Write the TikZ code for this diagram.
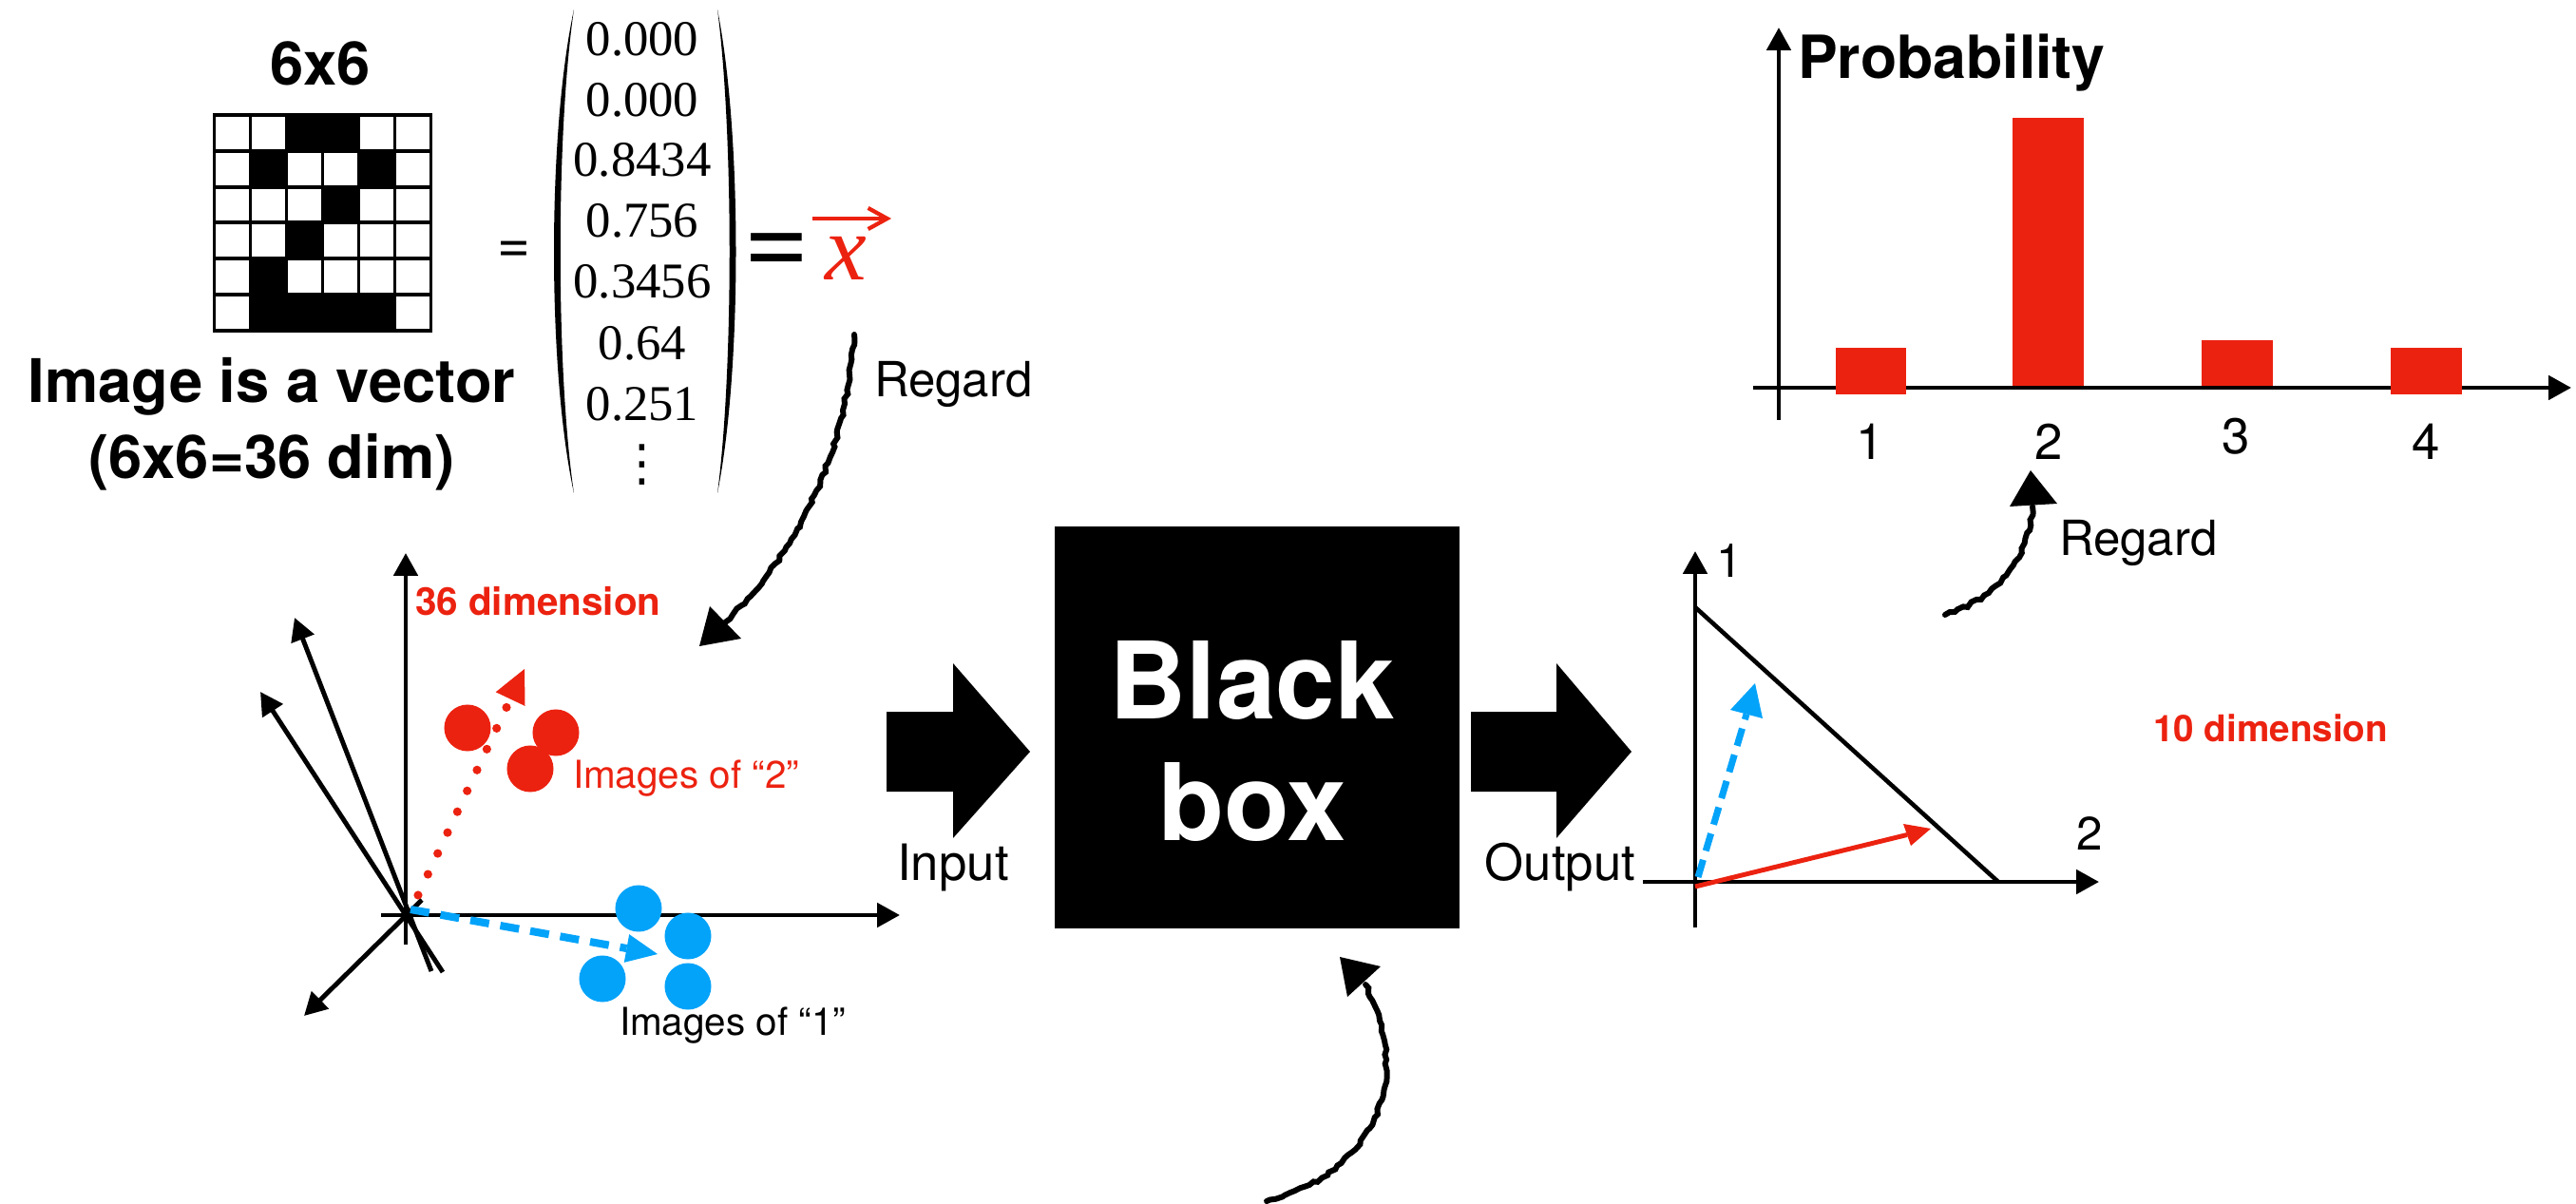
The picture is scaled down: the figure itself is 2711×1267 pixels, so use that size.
\documentclass[tikz,border=0pt]{standalone}
\usepackage{fontspec}
\setmainfont{TeX Gyre Heros}
\newfontfamily\timesfont{Liberation Serif}
\newfontfamily\dejavu{DejaVu Sans}
\usetikzlibrary{arrows.meta,decorations.pathmorphing}
\definecolor{myred}{RGB}{236,34,16}
\definecolor{myblue}{RGB}{4,163,250}
\newcommand{\fsz}[1]{\fontsize{#1}{#1}\selectfont}
\begin{document}
\begin{tikzpicture}[x=0.01cm,y=-0.01cm,
  txt/.style={inner sep=0pt, outer sep=0pt},
  axis/.style={line width=1.4pt, -{Triangle[length=6.8pt,width=7.1pt]}},
  plainline/.style={line width=1.3pt},
  sketch/.style={line width=1.7pt, line cap=round, decorate, decoration={random steps, segment length=1.5pt, amplitude=0.45pt}},
  redfill/.style={fill=myred},
  bluefill/.style={fill=myblue},
]
\pgfmathsetseed{3}
\fill[white] (0,0) rectangle (2711,1267);
\useasboundingbox (0,0) rectangle (2711,1267);

% ---------- 6x6 image ----------
\node[txt, anchor=base, font=\fsz{18pt}\bfseries] (t66) at (337,90) {6x6};
\foreach \c/\r in {2/0,3/0,1/1,4/1,3/2,2/3,1/4,1/5,2/5,3/5,4/5}
  \fill (225.5+38*\c, 121+37.8*\r) rectangle ++(38,37.8);
\foreach \i in {0,...,6} {
  \draw[line width=1.1pt, line cap=rect] (225.5+38*\i,121) -- (225.5+38*\i,347.8);
  \draw[line width=1.1pt, line cap=rect] (225.5,121+37.8*\i) -- (453.5,121+37.8*\i);
}
\node[txt, anchor=base, font=\fsz{18pt}\bfseries] (cap1) at (286,424) {Image is a vector};
\node[txt, anchor=base, font=\fsz{18pt}\bfseries] (cap2) at (286,504) {(6x6=36 dim)};

\node[txt, font=\fsz{17pt}] (eq1) at (541,265) {=};

% ---------- vector ----------
\fill (604,10) .. controls (576,140) and (576,390) .. (604,519)
      .. controls (585,390) and (585,140) .. (604,10) -- cycle;
\fill (755,10) .. controls (781,140) and (781,390) .. (755,519)
      .. controls (772,390) and (772,140) .. (755,10) -- cycle;
\foreach \v/\y [count=\k] in {0.000/41, 0.000/105, 0.8434/168, 0.756/232, 0.3456/296, 0.64/361, 0.251/425}
  \node[txt, font=\timesfont\fsz{15pt}] (m\k) at (676,\y) {\v};
\node[txt, font=\dejavu\fsz{15pt}] (m8) at (676,489) {⋮};

\node[txt, font=\fsz{34pt}] (eq2) at (817,268) {=};
\node[txt, font=\timesfont\itshape\fsz{28pt}, text=myred] (xv) at (890,272) {x};
\draw[myred, line width=1.2pt, -{Straight Barb[length=5.7pt,width=6.3pt]}] (855,230) -- (938,230);

% ---------- Regard 1 ----------
\coordinate (r1s) at (899,352);
\coordinate (r1e) at (763,655);
\draw[sketch] (r1s) .. controls (890,480) and (840,580) .. (r1e);
\fill (747,638) -- (780,672) -- (736,680) -- cycle;
\node[txt, anchor=base west, font=\fsz{14.5pt}] (reg1) at (920,418) {Regard};

% ---------- 36-dim space ----------
\draw[axis] (427,994) -- (427,582);
\draw[axis] (401,963) -- (947,963);
\draw[axis] (454,1022) -- (310,650);
\draw[axis] (466,1023) -- (274,728);
\draw[axis] (444,947) -- (320,1069);
\node[txt, anchor=base west, font=\fsz{11.5pt}\bfseries, text=myred] (d36) at (437,648) {36 dimension};

\foreach \p in {(492,766),(585,771),(558,809)}
  \fill[myred] \p circle[radius=0.245cm];
\foreach \p in {(672,956),(724,985),(634,1030),(724,1038)}
  \fill[myblue] \p circle[radius=0.245cm];

\draw[myred, line width=2.6pt, line cap=round, dash pattern=on 0pt off 6.9pt] (440,942) -- (537,736);
\fill[redfill] (552,704) -- (552.5,742.9) -- (521.7,728.3) -- cycle;
\draw[myblue, line width=2.3pt, dash pattern=on 5.7pt off 3.4pt] (432,957) -- (659.5,998);
\fill[bluefill] (692,1004) -- (656.8,1012.8) -- (662.2,983.2) -- cycle;

\node[txt, anchor=base west, font=\fsz{11.5pt}, text=myred] (im2) at (603,830) {Images of “2”};
\node[txt, anchor=base west, font=\fsz{11.5pt}] (im1) at (652,1089) {Images of “1”};

% ---------- Black box ----------
\node[fill=black, draw=none, inner sep=0pt, minimum width=4.26cm, minimum height=4.23cm] (bb) at (1323,765.5) {};
\node[txt, anchor=base, text=white, font=\fsz{32pt}\bfseries] (bb1) at (1318,757) {Black};
\node[txt, anchor=base, text=white, font=\fsz{32pt}\bfseries] (bb2) at (1318,884) {box};

\fill (933,749) -- (1003,749) -- (1003,698) -- (1084,791) -- (1003,882) -- (1003,833) -- (933,833) -- cycle;
\fill (1548,749) -- (1638,749) -- (1638,698) -- (1717,791) -- (1638,882) -- (1638,833) -- (1548,833) -- cycle;
\node[txt, anchor=base, font=\fsz{15pt}] (inp) at (1003,926) {Input};
\node[txt, anchor=base, font=\fsz{15pt}] (outp) at (1642,926) {Output};

% ---------- Regard (bottom) ----------
\coordinate (r2s) at (1333,1264);
\coordinate (r2e) at (1437,1036);
\draw[sketch] (r2s) .. controls (1430,1240) and (1495,1150) .. (r2e);
\fill (1410,1007) -- (1453,1017) -- (1418,1049) -- cycle;

% ---------- output simplex ----------
\draw[axis] (1784,976) -- (1784,580);
\draw[axis] (1729,928) -- (2209,928);
\draw[plainline] (1784,639) -- (2103,928);
\draw[myblue, line width=2pt, dash pattern=on 5.4pt off 2.8pt] (1787,923) -- (1838,751.5);
\fill[bluefill] (1847,719) -- (1855,756) -- (1821,747) -- cycle;
\draw[myred, line width=1.4pt] (1784,933) -- (2007,878.5);
\fill[redfill] (2032,872) -- (2003,867) -- (2011,890) -- cycle;
\node[txt, anchor=base west, font=\fsz{14pt}] (ax1) at (1806,607) {1};
\node[txt, anchor=base, font=\fsz{14pt}] (ax2) at (2199,894) {2};
\node[txt, anchor=base west, font=\fsz{11pt}\bfseries, text=myred] (d10) at (2266,781) {10 dimension};

% ---------- probability chart ----------
\draw[axis] (1872,442) -- (1872,29);
\draw[axis] (1845,408) -- (2706,408);
\fill[redfill] (1932,366) rectangle (2006,415);
\fill[redfill] (2118,124) rectangle (2193,406);
\fill[redfill] (2317,358) rectangle (2392,406);
\fill[redfill] (2516,366) rectangle (2591,415);
\node[txt, anchor=base, font=\fsz{15pt}] (b1) at (1968,484) {1};
\node[txt, anchor=base, font=\fsz{15pt}] (b2) at (2156,484) {2};
\node[txt, anchor=base, font=\fsz{15pt}] (b3) at (2353,478) {3};
\node[txt, anchor=base, font=\fsz{15pt}] (b4) at (2553,484) {4};
\node[txt, anchor=base west, font=\fsz{17.8pt}\bfseries] (prob) at (1892,83) {Probability};

% ---------- Regard (top right) ----------
\coordinate (r3s) at (2047,647);
\coordinate (r3e) at (2139,533);
\draw[sketch] (r3s) .. controls (2100,630) and (2135,590) .. (r3e);
\fill (2137,495) -- (2165,530) -- (2115,533) -- cycle;
\node[txt, anchor=base west, font=\fsz{14.5pt}] (reg2) at (2167,585) {Regard};
\end{tikzpicture}
\end{document}
